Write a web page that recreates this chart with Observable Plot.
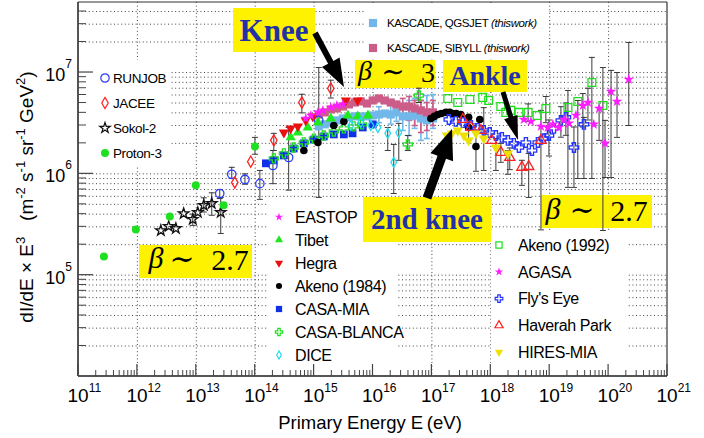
<!DOCTYPE html>
<html><head><meta charset="utf-8">
<script src="https://cdn.jsdelivr.net/npm/d3@7"></script>
<script src="https://cdn.jsdelivr.net/npm/@observablehq/plot@0.6"></script>
<style>body{margin:0;background:#fff}</style>
</head><body><div id="chart"></div>
<script>
// ---------------- DATA (energy in eV, dI/dE x E^3) ----------------
const kascadeE = [1.2e15,1.52e15,1.92e15,2.43e15,3.08e15,3.9e15,4.9e15,6.2e15,7.9e15,9.9e15,1.26e16,1.59e16,2.0e16,2.5e16,3.2e16,4.1e16,5.1e16,6.5e16,8.2e16,1.04e17];
const qgsF = [2.94e6,3.08e6,3.21e6,3.37e6,3.52e6,3.61e6,3.69e6,3.69e6,3.69e6,3.77e6,3.85e6,3.94e6,3.85e6,4.04e6,3.69e6,3.69e6,3.77e6,3.52e6,3.37e6,3.52e6];
const qgsErr = [[1.26e16,3.2e6,4.6e6],[2.0e16,3.1e6,4.8e6],[2.5e16,3.3e6,4.9e6],[3.2e16,2.68e6,4.73e6],[4.1e16,2.39e6,5.3e6],[5.1e16,2.81e6,5.55e6],[6.5e16,2.14e6,5.3e6],[8.2e16,2.23e6,5.93e6],[1.04e17,2.81e6,6.07e6]];
const sibF = [3.85e6,4.04e6,4.32e6,4.42e6,4.62e6,4.84e6,5.06e6,5.18e6,4.95e6,5.30e6,5.55e6,5.30e6,5.06e6,4.84e6,4.62e6,4.62e6,4.42e6,4.23e6,4.04e6,4.04e6];
const sibErr = [[3.2e16,3.52e6,5.55e6],[4.1e16,3.37e6,5.8e6],[5.1e16,3.0e6,5.3e6],[6.5e16,2.56e6,5.3e6],[8.2e16,2.68e6,5.06e6],[1.04e17,3.0e6,5.3e6]];

const runjobE = [2.5e13,4.0e13,6.7e13,1.2e14,2.0e14,3.7e14,1.2e15];
const runjobF = [6.4e5,9.9e5,8.8e5,8.0e5,1.21e6,1.45e6,3.37e6];
const runjobErr = [[2.5e13,5.7e5,7.0e5],[4.0e13,9.0e5,1.16e6],[6.7e13,7.9e5,1.0e6],[1.2e14,5.6e5,1.08e6],[2.0e14,8.0e5,1.70e6],[3.7e14,6.9e5,2.87e6],[1.2e15,5.85e5,1.12e7]];

const jaceeE = [4.5e13,8.4e13,2.07e14,6.2e14,1.92e15];
const jaceeF = [8.2e5,1.32e6,2.14e6,5.06e6,6.97e6];
const jaceeErr = [[2.07e14,1.70e6,2.51e6],[6.2e14,4.0e6,6.1e6],[1.92e15,5.6e6,8.4e6]];

const sokolE = [2.5e12,3.4e12,4.5e12,6.1e12,8.7e12,1.06e13,1.34e13,1.83e13,2.6e13];
const sokolF = [2.76e5,3.03e5,2.89e5,4.06e5,3.55e5,4.16e5,4.9e5,5.1e5,4.16e5];
const sokolErr = [[8.7e12,3.1e5,4.0e5],[1.34e13,4.2e5,5.8e5],[1.83e13,3.9e5,6.5e5],[2.6e13,2.58e5,5.85e5]];

const proton3E = [2.7e11,9.4e11,3.55e12,9.8e12,2.9e13,9.9e13];
const proton3F = [1.53e5,2.83e5,3.8e5,7.7e5,4.9e5,1.86e6];
const proton3Err = [[9.9e13,1.56e6,2.29e6]];

const eastopE = [7.2e14,8.8e14,1.16e15,1.41e15,1.92e15,2.43e15,3.08e15];
const eastopF = [3.52e6,3.77e6,4.04e6,4.23e6,4.52e6,4.73e6,4.84e6];

const tibetE = [4.0e14,5.3e14,7.8e14,1.16e15,1.92e15,3.74e15,5.5e15,8.2e15];
const tibetF = [2.29e6,2.56e6,2.87e6,3.21e6,3.52e6,3.77e6,3.69e6,3.77e6];

const hegraE = [3.07e14,4.0e14,5.3e14,7.2e14,9.5e14,3.46e15,5.5e15];
const hegraF = [2.56e6,2.81e6,2.94e6,3.37e6,3.69e6,5.30e6,5.30e6];

const akeno84E = [6.7e14,1.16e15,2.16e15,3.2e15,9.6e16,1.1e17,1.26e17,1.45e17,1.73e17,2.0e17,2.26e17,2.6e17,3.1e17,4.2e17,4.2e17,5.6e17,6.5e17];
const akeno84F = [1.70e6,2.04e6,3.0e6,3.29e6,3.52e6,3.69e6,3.85e6,3.94e6,4.04e6,4.04e6,3.94e6,3.94e6,3.85e6,3.61e6,2.87e6,1.86e6,3.44e6];
const akeno84Err = [[5.6e17,1.06e6,2.56e6],[4.2e17,2.2e6,3.6e6]];

const casamiaE = [1.52e14,2.07e14,3.07e14,4.5e14,6.7e14,9.9e14,1.46e15,2.16e15,3.2e15,4.5e15,6.7e15,9.9e15];
const casamiaF = [1.27e6,1.36e6,1.52e6,1.78e6,2.0e6,2.18e6,2.34e6,2.45e6,2.45e6,2.51e6,2.87e6,3.08e6];

const casablancaE = [2.07e14,3.07e14,4.5e14,6.7e14,9.9e14,1.46e15,2.16e15,3.2e15,4.7e15,6.5e15,3.9e16,6.0e16];
const casablancaF = [1.42e6,1.59e6,1.82e6,2.04e6,2.23e6,2.39e6,2.62e6,2.81e6,2.94e6,3.08e6,1.95e6,5.93e6];
const casablancaErr = [[3.9e16,1.70e6,2.39e6],[6.0e16,5.06e6,7.0e6]];

const diceE = [4.2e15,6.2e15,9.2e15,1.21e16,1.78e16,2.25e16,2.74e16];
const diceF = [3.0e6,3.21e6,3.0e6,2.87e6,2.51e6,1.30e6,2.56e6];
const diceErr = [[1.78e16,1.70e6,2.87e6],[2.25e16,6.4e5,1.95e6],[2.74e16,1.36e6,3.15e6]];

const akeno92E = [1.86e17,2.75e17,4.4e17,7.3e17,9.2e17,1.48e18,1.8e18,2.19e18,3.0e18,4.3e18,6.1e18,8.6e18,2.04e19,3.0e19,5.2e19,8.0e19];
const akeno92F = [5.55e6,5.06e6,5.42e6,5.68e6,5.30e6,4.62e6,4.04e6,4.23e6,4.04e6,4.04e6,3.77e6,4.42e6,4.52e6,5.18e6,7.98e6,4.73e6];
const akeno92Err = [[4.3e18,3.3e6,4.9e6],[8.6e18,3.2e6,5.8e6],[2.04e19,7.35e5,6.65e6],[3.0e19,9.0e5,5.3e6],[5.2e19,9.0e5,1.41e7],[8.0e19,2.76e5,1.12e7]];

const agasaE = [3.64e18,4.8e18,7.1e18,9.3e18,1.13e19,1.43e19,1.74e19,2.12e19,2.79e19,3.66e19,4.46e19,5.6e19,6.9e19,8.7e19,1.1e20,1.39e20,2.2e20];
const agasaF = [3.44e6,3.29e6,2.94e6,2.87e6,3.08e6,2.87e6,3.44e6,3.15e6,3.77e6,4.73e6,5.06e6,3.08e6,4.42e6,2.0e6,6.5e6,5.18e6,8.55e6];
const agasaErr = [[3.66e19,2.9e6,6.2e6],[4.46e19,3.4e6,7.0e6],[6.9e19,2.14e6,4.52e6],[8.7e19,9.2e5,3.37e6],[1.1e20,9.2e5,1.05e7],[1.39e20,2.29e6,1.0e7],[2.2e20,3.0e6,1.98e7]];

const flyseyeE = [1.94e17,2.55e17,3.35e17,4.6e17,6.0e17,7.6e17,9.6e17,1.22e18,1.54e18,1.95e18,2.46e18,3.0e18,3.94e18,5.0e18,6.3e18,8.0e18,9.7e18,1.18e19,1.55e19,1.88e19,2.58e19,3.81e19];
const flyseyeF = [3.44e6,3.29e6,3.21e6,3.0e6,2.81e6,2.68e6,2.56e6,2.39e6,2.29e6,2.14e6,2.0e6,1.82e6,2.04e6,1.70e6,2.04e6,2.23e6,2.39e6,2.81e6,3.37e6,3.61e6,1.82e6,3.08e6];
const flyseyeErr = [[9.7e18,1.5e6,3.4e6],[1.55e19,2.3e6,4.6e6],[1.88e19,2.4e6,5.0e6],[2.58e19,7.35e5,2.9e6],[3.81e19,9.0e5,3.61e6]];

const haverahE = [3.35e17,4.6e17,6.8e17,1.04e18,1.48e18,2.1e18,3.37e18,4.4e18,7.1e18];
const haverahF = [3.44e6,2.87e6,2.68e6,2.14e6,1.63e6,1.45e6,1.16e6,1.18e6,2.14e6];
const haverahErr = [[1.48e18,1.3e6,2.0e6],[2.1e18,1.1e6,1.8e6],[3.37e18,7.7e5,1.36e6],[4.4e18,5.85e5,1.59e6],[7.1e18,2.8e5,4.23e6]];

const hiresE = [1.8e17,2.18e17,2.75e17,3.5e17,4.2e17,5.6e17,7.6e17,1.22e18,1.95e18];
const hiresF = [2.39e6,2.51e6,2.68e6,2.39e6,2.14e6,2.51e6,2.23e6,1.82e6,1.59e6];
const hiresErr = [[7.6e17,1.08e6,4.5e6],[1.22e18,1.08e6,2.23e6],[1.95e18,9.9e5,1.7e6]];

const xTickExponents = [11,12,13,14,15,16,17,18,19,20,21];
const yTickExponents = [5,6,7];

// ---------------- STYLES ----------------
const triangleDown = {draw(ctx, size){const y=Math.sqrt(size/(Math.sqrt(3)*3));ctx.moveTo(0,2*y);ctx.lineTo(-Math.sqrt(3)*y,-y);ctx.lineTo(Math.sqrt(3)*y,-y);ctx.closePath();}};
const capSymbol = {draw(ctx, size){const r=Math.sqrt(size/Math.PI);ctx.moveTo(-r,0);ctx.lineTo(r,0);}};
const styles = {
  qgs:{symbol:d3.symbolSquare,r:4.6,fill:"#72b7ea",stroke:"none",bar:"#72b7ea"},
  sib:{symbol:d3.symbolSquare,r:4.6,fill:"#cc5c88",stroke:"none",bar:"#cc5c88"},
  runjob:{symbol:d3.symbolCircle,r:4.2,fill:"none",stroke:"#2a3cff"},
  jacee:{symbol:d3.symbolDiamond,r:3.4,fill:"none",stroke:"#ff2020"},
  sokol:{symbol:d3.symbolStar,r:3.3,fill:"none",stroke:"#111"},
  proton3:{symbol:d3.symbolCircle,r:4,fill:"#1fe01f",stroke:"none"},
  eastop:{symbol:d3.symbolStar,r:3.2,fill:"#ff1cff",stroke:"none"},
  tibet:{symbol:d3.symbolTriangle,r:3.8,fill:"#1ee81e",stroke:"none"},
  hegra:{symbol:triangleDown,r:3.8,fill:"#e81010",stroke:"none"},
  akeno84:{symbol:d3.symbolCircle,r:3.8,fill:"#000",stroke:"none"},
  casamia:{symbol:d3.symbolSquare,r:4.4,fill:"#1030e8",stroke:"none"},
  casablanca:{symbol:d3.symbolCross,r:3.8,fill:"none",stroke:"#22dd22"},
  dice:{symbol:d3.symbolDiamond,r:3,fill:"none",stroke:"#22ddee"},
  akeno92:{symbol:d3.symbolSquare,r:4.4,fill:"none",stroke:"#22dd22"},
  agasa:{symbol:d3.symbolStar,r:3.4,fill:"#ff1cff",stroke:"none"},
  flyseye:{symbol:d3.symbolCross,r:4,fill:"none",stroke:"#2233ff"},
  haverah:{symbol:d3.symbolTriangle,r:3.8,fill:"none",stroke:"#ff2020"},
  hires:{symbol:triangleDown,r:3.8,fill:"#eee000",stroke:"none"}
};
const series = [
  ["qgs",kascadeE,qgsF,qgsErr],["sib",kascadeE,sibF,sibErr],
  ["runjob",runjobE,runjobF,runjobErr],["jacee",jaceeE,jaceeF,jaceeErr],
  ["sokol",sokolE,sokolF,sokolErr],["proton3",proton3E,proton3F,proton3Err],
  ["casamia",casamiaE,casamiaF,[]],["casablanca",casablancaE,casablancaF,casablancaErr],
  ["akeno84",akeno84E,akeno84F,akeno84Err],["tibet",tibetE,tibetF,[]],
  ["hegra",hegraE,hegraF,[]],["eastop",eastopE,eastopF,[]],["dice",diceE,diceF,diceErr],
  ["akeno92",akeno92E,akeno92F,akeno92Err],["flyseye",flyseyeE,flyseyeF,flyseyeErr],
  ["haverah",haverahE,haverahF,haverahErr],["hires",hiresE,hiresF,hiresErr],
  ["agasa",agasaE,agasaF,agasaErr]
];

const yGrid = [];
for (const n of [4,5,6,7]) for (let m=1;m<=9;m++){const v=m*Math.pow(10,n); if (v>1e4 && v<4.9e7) yGrid.push(v);}
const xGrid = xTickExponents.slice(1,-1).map(n=>Math.pow(10,n));

const errMarks = [], dotMarks = [];
for (const [id,E,F,err] of series){
  const st = styles[id];
  const errRows = err.map(([e,lo,hi])=>({E:e,lo,hi}));
  const capRows = errRows.flatMap(d=>[{E:d.E,v:d.lo},{E:d.E,v:d.hi}]);
  const bc = st.bar || "#3a3a3a";
  if (errRows.length){
    errMarks.push(Plot.ruleX(errRows,{x:"E",y1:"lo",y2:"hi",stroke:bc,strokeWidth:st.bar?1.6:1}));
    errMarks.push(Plot.dot(capRows,{x:"E",y:"v",symbol:capSymbol,r:3,stroke:bc,fill:"none",strokeWidth:st.bar?1.6:1}));
  }
  dotMarks.push(Plot.dot(E.map((e,i)=>({E:e,F:F[i]})),{x:"E",y:"F",symbol:st.symbol,r:st.r,fill:st.fill,stroke:st.stroke,strokeWidth:1.3}));
}

const plot = Plot.plot({
  width:704, height:438,
  marginTop:2, marginRight:37, marginBottom:62, marginLeft:78,
  x:{type:"log", domain:[1e11,1e21], axis:null},
  y:{type:"log", domain:[1e4,4.91e7], axis:null},
  style:{background:"white", overflow:"visible"},
  marks:[
    Plot.ruleY(yGrid,{stroke:"#444",strokeDasharray:"1,2.6",strokeWidth:1}),
    Plot.ruleX(xGrid,{stroke:"#444",strokeDasharray:"1,2.6",strokeWidth:1}),
    ...errMarks,
    ...dotMarks
  ]
});
document.getElementById("chart").appendChild(plot);

const xs = plot.scale("x"), ys = plot.scale("y");
const X = v=>xs.apply(v), Y = v=>ys.apply(v);
const svg = d3.select(plot);
const NS = "http://www.w3.org/2000/svg";
const markGroups = Array.from(plot.children).filter(e=>e.tagName.toLowerCase()==="g");
const bgNode = document.createElementNS(NS,"g");
plot.insertBefore(bgNode, markGroups[2] || null);
const bg = d3.select(bgNode);

const x0 = X(1e11), x1 = X(1e21), yb = Y(1e4), yt = Y(4.91e7);

// legend backgrounds
const rect = (g,x,y,w,h,fill)=>g.append("rect").attr("x",x).attr("y",y).attr("width",w).attr("height",h).attr("fill",fill);
rect(bg, x0+1, 60, 90, 106, "white");
rect(bg, 366, yt+1, 182, 56, "white");
rect(bg, 267, 200, 130, yb-200-1, "white");
rect(bg, 491, 232, 136, yb-232-1, "white");

// yellow annotation boxes
const YEL = "#fff200", BLUE = "#2232a6";
const serif = "'Liberation Serif','DejaVu Serif',serif";
const sans = "'Liberation Sans',Arial,Helvetica,sans-serif";
rect(bg, 233, 8, 82, 44, YEL);
bg.append("text").attr("x",274).attr("y",41).attr("text-anchor","middle").attr("font-family",serif).attr("font-weight","bold").attr("font-size",31).attr("fill",BLUE).text("Knee");
rect(bg, 443, 60, 84, 32, YEL);
bg.append("text").attr("x",485).attr("y",85).attr("text-anchor","middle").attr("font-family",serif).attr("font-weight","bold").attr("font-size",28).attr("fill",BLUE).text("Ankle");
rect(bg, 363, 197, 128, 45, YEL);
bg.append("text").attr("x",427).attr("y",229).attr("text-anchor","middle").attr("font-family",serif).attr("font-weight","bold").attr("font-size",29).attr("fill",BLUE).text("2nd knee");

function betaBox(g, bx, by, bw, bh, parts){
  rect(g, bx, by, bw, bh, YEL);
  for (const [t,x,italic,fs,base] of parts){
    g.append("text").attr("x",x).attr("y",base).attr("font-family",serif).attr("font-style",italic?"italic":"normal").attr("font-size",fs).attr("fill","#000").attr("text-anchor","middle").text(t);
  }
}
betaBox(bg, 355, 60, 80, 28, [["β",365,true,28,80],["∼",393,false,28,81],["3",428,false,28,82]]);
betaBox(bg, 541, 195, 111, 33, [["β",553,true,30,219],["∼",582,false,30,220],["2.7",629,false,30,221]]);
betaBox(bg, 139, 245, 113, 33, [["β",156,true,30,268],["∼",182,false,30,269],["2.7",230,false,30,270]]);

// arrows on top
const overG = svg.append("g");
function arrow(x1,y1,x2,y2,shaft,headW,headL){
  const dx=x2-x1, dy=y2-y1, L=Math.hypot(dx,dy), ux=dx/L, uy=dy/L, px=-uy, py=ux;
  const bx=x2-ux*headL, by=y2-uy*headL;
  const pts=[[x1+px*shaft/2,y1+py*shaft/2],[bx+px*shaft/2,by+py*shaft/2],[bx+px*headW/2,by+py*headW/2],[x2,y2],[bx-px*headW/2,by-py*headW/2],[bx-px*shaft/2,by-py*shaft/2],[x1-px*shaft/2,y1-py*shaft/2]];
  overG.append("polygon").attr("points",pts.map(p=>p.join(",")).join(" ")).attr("fill","#000");
}
arrow(315,33,344,87,6,20,28);
arrow(503,92,518,140,5,14,24);
arrow(427,198,452,129,9,24,30);

// frame and ticks
const ax = svg.append("g").attr("stroke","#444").attr("fill","none");
ax.append("line").attr("x1",x0).attr("x2",x0).attr("y1",yt).attr("y2",yb).attr("stroke-width",2).attr("stroke","#555");
ax.append("line").attr("x1",x0).attr("x2",x1).attr("y1",yb).attr("y2",yb).attr("stroke-width",2).attr("stroke","#555");
ax.append("line").attr("x1",x0).attr("x2",x1).attr("y1",yt).attr("y2",yt).attr("stroke-width",1.2).attr("stroke","#333");
ax.append("line").attr("x1",x1).attr("x2",x1).attr("y1",yt).attr("y2",yb).attr("stroke-width",1.2).attr("stroke","#333");
for (let n=11;n<=21;n++){
  const xv = X(Math.pow(10,n));
  ax.append("line").attr("x1",xv).attr("x2",xv).attr("y1",yb).attr("y2",yb-12).attr("stroke-width",1.2);
  if (n<21) for (let m=2;m<=9;m++){const xm=X(m*Math.pow(10,n)); ax.append("line").attr("x1",xm).attr("x2",xm).attr("y1",yb).attr("y2",yb-6).attr("stroke-width",1);}
}
for (let n=4;n<=7;n++){
  const yv = Y(Math.pow(10,n));
  if (n>4) ax.append("line").attr("x1",x0).attr("x2",x0+15).attr("y1",yv).attr("y2",yv).attr("stroke-width",1.2);
  for (let m=2;m<=9;m++){const v=m*Math.pow(10,n); if (v<4.9e7){const ym=Y(v); ax.append("line").attr("x1",x0).attr("x2",x0+8).attr("y1",ym).attr("y2",ym).attr("stroke-width",1);}}
}
// tick labels
const lab = svg.append("g").attr("font-family",sans).attr("fill","#000");
for (const n of xTickExponents){
  const t = lab.append("text").attr("x",X(Math.pow(10,n))-10.5).attr("y",402).attr("font-size",19).attr("text-anchor","start");
  t.append("tspan").text("10");
  t.append("tspan").attr("dy",-10).attr("font-size",12).text(String(n));
}
for (const n of yTickExponents){
  const t = lab.append("text").attr("x",72).attr("y",Y(Math.pow(10,n))+9).attr("font-size",18).attr("text-anchor","end");
  t.append("tspan").text("10");
  t.append("tspan").attr("dy",-13).attr("font-size",12).text(String(n));
}
// axis titles
lab.append("text").attr("x",370).attr("y",429).attr("text-anchor","middle").attr("font-size",18.5).text("Primary Energy E\u2009(eV)");
const yl = lab.append("text").attr("transform","translate(33,197) rotate(-90)").attr("text-anchor","middle").attr("font-size",19).style("white-space","pre");
const ylParts = [["dI/dE × E",0],["3",1],["   (m",0],["-2",1],[" s",0],["-1",1],[" sr",0],["-1",1],[" GeV",0],["2",1],[")",0]];
let prevSup = 0;
for (const [t,sup] of ylParts){
  const ts = yl.append("tspan").text(t);
  const dy = sup ? -8 : (prevSup ? 8 : 0);
  if (dy) ts.attr("dy",dy);
  if (sup) ts.attr("font-size",13);
  prevSup = sup;
}

// legends
const lg = svg.append("g");
function legendItem(id, mx, my, tx, text, fs, scale, extra){
  const st = styles[id];
  lg.append("path").attr("d", d3.symbol().type(st.symbol).size(Math.PI*st.r*st.r*scale*scale)()).attr("transform",`translate(${mx},${my})`)
    .attr("fill",st.fill).attr("stroke",st.stroke==="none"?null:st.stroke).attr("stroke-width",1.2);
  const t = lg.append("text").attr("x",tx).attr("y",my+fs*0.36).attr("text-anchor","start").attr("font-family",sans).attr("font-size",fs).attr("letter-spacing",-0.4).text(text);
  if (extra) t.append("tspan").attr("font-style","italic").text(extra);
}
const legendTopLeft = [["runjob","RUNJOB"],["jacee","JACEE"],["sokol","Sokol-2"],["proton3","Proton-3"]];
legendTopLeft.forEach(([id,t],i)=>legendItem(id,105,78+25*i,113,t,13.5,1));
const legendKascade = [["qgs","KASCADE, QGSJET ","(thiswork)"],["sib","KASCADE, SIBYLL ","(thiswork)"]];
legendKascade.forEach(([id,t,e],i)=>legendItem(id,373,23+25*i,387,t,11.5,1,e));
const legendMid = [["eastop","EASTOP"],["tibet","Tibet"],["hegra","Hegra"],["akeno84","Akeno (1984)"],["casamia","CASA-MIA"],["casablanca","CASA-BLANCA"],["dice","DICE"]];
legendMid.forEach(([id,t],i)=>legendItem(id,279,217+23*i,295,t,16,0.8));
const legendRight = [["akeno92","Akeno (1992)"],["agasa","AGASA"],["flyseye","Fly's Eye"],["haverah","Haverah Park"],["hires","HIRES-MIA"]];
legendRight.forEach(([id,t],i)=>legendItem(id,499,245+26.8*i,518,t,16,0.8));
</script></body></html>
